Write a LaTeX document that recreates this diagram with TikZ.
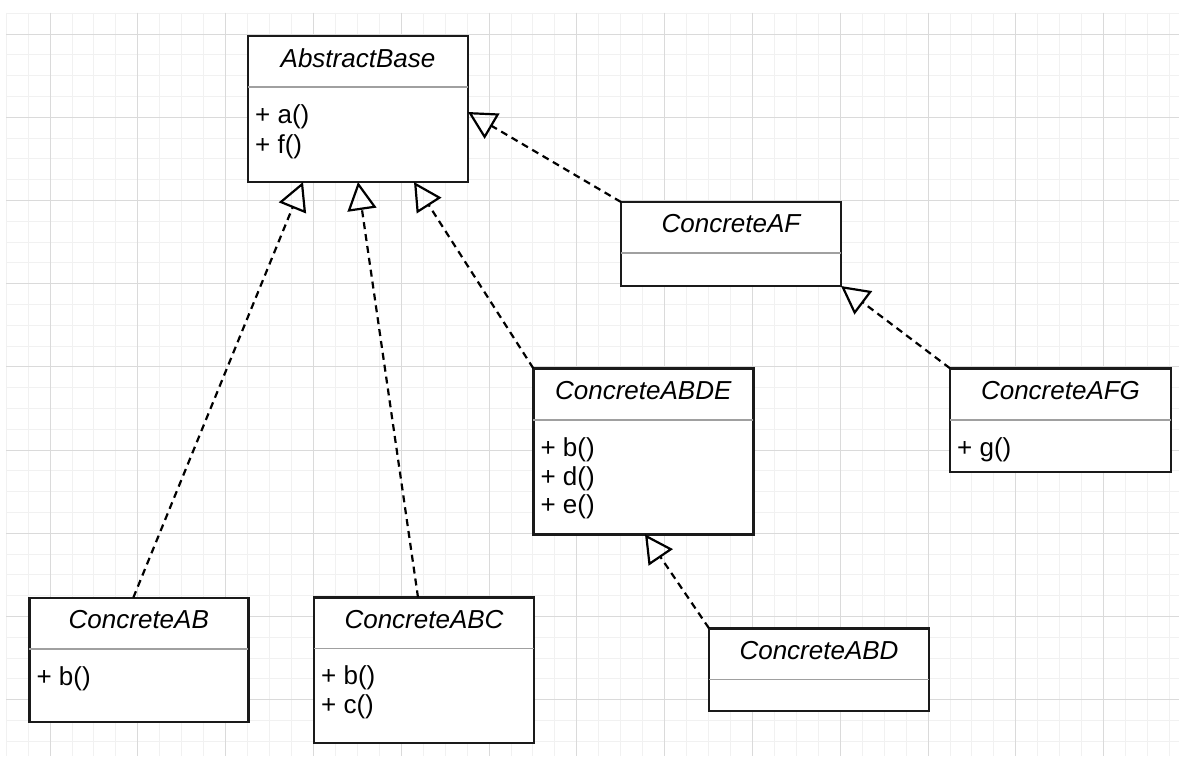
\documentclass[tikz,border=0pt]{standalone}
\usepackage{fontspec}
\setmainfont{Liberation Sans}
\usetikzlibrary{arrows.meta,calc}

\definecolor{boxline}{HTML}{1A1A1A}
\definecolor{sepline}{HTML}{A0A0A0}
\definecolor{minorline}{HTML}{F1F1F1}
\definecolor{majorline}{HTML}{DADADA}

\begin{document}
\begin{tikzpicture}[x=1pt,y=-1pt,
  minorgrid/.style={draw=minorline, line width=0.9pt},
  majorgrid/.style={draw=majorline, line width=1pt},
  classbox/.style={draw=boxline, line width=2.4pt, fill=white,
    minimum width=220pt, anchor=north west, inner sep=0pt, outer sep=0pt},
  classname/.style={font=\fontsize{26}{30}\selectfont\itshape, inner sep=0pt},
  member/.style={font=\fontsize{26}{30}\selectfont, anchor=west, inner sep=0pt},
  divider/.style={draw=sepline, line width=1.6pt},
  realize/.style={draw=black, line width=2.2pt, dash pattern=on 7pt off 5pt,
    -{Triangle[open, length=28pt, width=29pt]}}
]
\useasboundingbox (0,0) rectangle (1179,756);
\fill[white] (0,0) rectangle (1179,756);

% background grid
\foreach \i in {0,...,53}
  \draw[minorgrid] ({6.1+21.95*\i},12.5) -- ({6.1+21.95*\i},756);
\foreach \j in {0,...,35}
  \draw[minorgrid] (6.1,{13.2+20.8*\j}) -- (1179,{13.2+20.8*\j});
\foreach \i in {0,...,12}
  \draw[majorgrid] ({50+87.8*\i},12.5) -- ({50+87.8*\i},756);
\foreach \j in {0,...,8}
  \draw[majorgrid] (6.1,{34+83.2*\j}) -- (1179,{34+83.2*\j});

% AbstractBase
\node[classbox, minimum height=146pt] (base) at (248,36) {};
\node[classname] (baseT) at ($(base.north)+(0,22)$) {AbstractBase};
\draw[divider] ($(base.north west)+(0,51)$) -- ($(base.north east)+(0,51)$);
\node[member] (baseM1) at ($(base.north west)+(7,81)$) {+ a()};
\node[member] (baseM2) at ($(base.north west)+(7,110.5)$) {+ f()};

% ConcreteAF
\node[classbox, minimum height=84pt] (af) at (621,202) {};
\node[classname] (afT) at ($(af.north)+(0,22)$) {ConcreteAF};
\draw[divider] ($(af.north west)+(0,51)$) -- ($(af.north east)+(0,51)$);

% ConcreteABDE
\node[classbox, minimum height=166pt] (abde) at (533.3,368.3) {};
\node[classname] (abdeT) at ($(abde.north)+(0,22)$) {ConcreteABDE};
\draw[divider] ($(abde.north west)+(0,51.5)$) -- ($(abde.north east)+(0,51.5)$);
\node[member] (abdeM1) at ($(abde.north west)+(7,81.5)$) {+ b()};
\node[member] (abdeM2) at ($(abde.north west)+(7,110)$) {+ d()};
\node[member] (abdeM3) at ($(abde.north west)+(7,138.5)$) {+ e()};

% ConcreteAFG
\node[classbox, minimum height=103.5pt, minimum width=221pt] (afg) at (950,368.3) {};
\node[classname] (afgT) at ($(afg.north)+(0,22)$) {ConcreteAFG};
\draw[divider] ($(afg.north west)+(0,51.5)$) -- ($(afg.north east)+(0,51.5)$);
\node[member] (afgM1) at ($(afg.north west)+(7,81.5)$) {+ g()};

% ConcreteAB
\node[classbox, minimum height=124.5pt, minimum width=219pt] (cab) at (29.3,597.7) {};
\node[classname] (cabT) at ($(cab.north)+(0,22)$) {ConcreteAB};
\draw[divider] ($(cab.north west)+(0,51)$) -- ($(cab.north east)+(0,51)$);
\node[member] (cabM1) at ($(cab.north west)+(7,81)$) {+ b()};

% ConcreteABC
\node[classbox, minimum height=145.5pt] (cabc) at (314,597.3) {};
\node[classname] (cabcT) at ($(cabc.north)+(0,22)$) {ConcreteABC};
\draw[divider] ($(cabc.north west)+(0,51)$) -- ($(cabc.north east)+(0,51)$);
\node[member] (cabcM1) at ($(cabc.north west)+(7,80)$) {+ b()};
\node[member] (cabcM2) at ($(cabc.north west)+(7,109.5)$) {+ c()};

% ConcreteABD
\node[classbox, minimum height=82.7pt] (abd) at (709,628.3) {};
\node[classname] (abdT) at ($(abd.north)+(0,22)$) {ConcreteABD};
\draw[divider] ($(abd.north west)+(0,51)$) -- ($(abd.north east)+(0,51)$);

% realization arrows
\draw[realize] ($(cab.north west)+(104,0)$) -- ($(base.south west)+(55,0)$);
\draw[realize] ($(cabc.north west)+(104,0)$) -- ($(base.south west)+(110,0)$);
\draw[realize] (abde.north west) -- ($(base.south west)+(166,0)$);
\draw[realize] (af.north west) -- ($(base.north east)+(0,76)$);
\draw[realize] (afg.north west) -- (af.south east);
\draw[realize] (abd.north west) -- ($(abde.south west)+(111.7,0)$);
\end{tikzpicture}
\end{document}
